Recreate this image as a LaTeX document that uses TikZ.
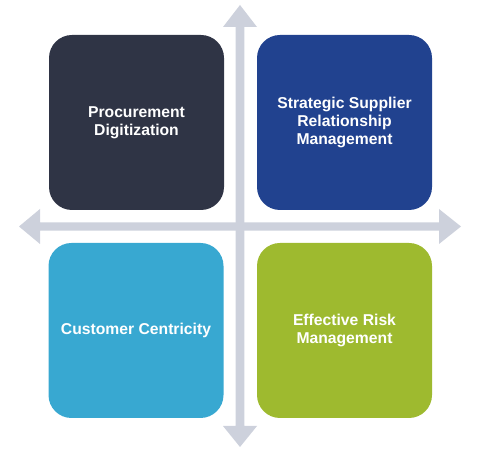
\documentclass[tikz,border=0pt]{standalone}
\usepackage{fontspec}
\setmainfont{Liberation Sans}
\begin{document}
\begin{tikzpicture}[x=1pt,y=1pt,
  quad/.style={rectangle, rounded corners=23pt, minimum width=175pt, minimum height=175pt,
    inner sep=0pt, text=white, align=center, font=\fontsize{15.7}{17.8}\selectfont\bfseries},
  crossarrow/.style={fill=arrowgray, draw=none}]
\definecolor{arrowgray}{HTML}{CDD1DC}
\definecolor{slate}{HTML}{2F3445}
\definecolor{navy}{HTML}{21428F}
\definecolor{sky}{HTML}{38A8D1}
\definecolor{olive}{HTML}{9EBA2F}
\useasboundingbox (0,0) rectangle (482,460);
% vertical double arrow
\fill[crossarrow] (240,455) -- (257,433) -- (244.3,433) -- (244.3,34) -- (257,34) -- (240,13)
  -- (223,34) -- (235.7,34) -- (235.7,433) -- (223,433) -- cycle;
% horizontal double arrow
\fill[crossarrow] (19,233.5) -- (40,251) -- (40,237.7) -- (439,237.7) -- (439,251) -- (461,233.5)
  -- (439,216) -- (439,229.3) -- (40,229.3) -- (40,216) -- cycle;
\node[quad, fill=slate] (pd) at (136.5,337.5) {Procurement\\Digitization};
\node[quad, fill=navy] (ssrm) at (344.5,337.5) {Strategic Supplier\\Relationship\\Management};
\node[quad, fill=sky] (cc) at (136,129.5) {Customer Centricity};
\node[quad, fill=olive] (erm) at (344.5,129.5) {Effective Risk\\Management};
\end{tikzpicture}
\end{document}
